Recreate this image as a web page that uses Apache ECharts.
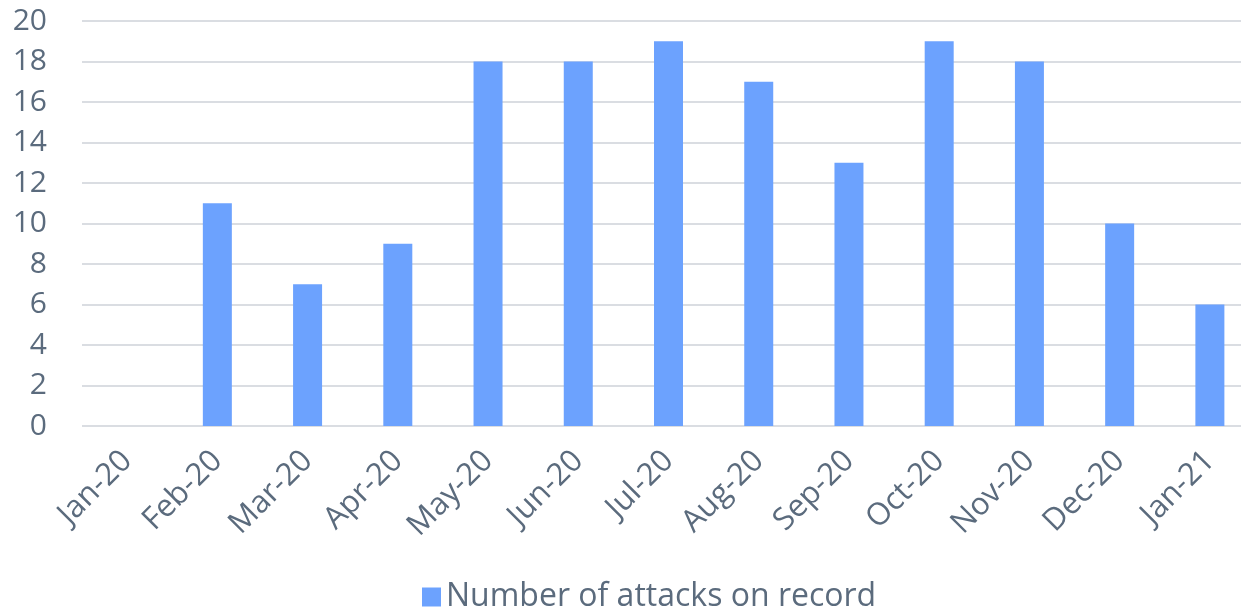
<!DOCTYPE html>
<html>
<head>
<meta charset="utf-8">
<script src="https://cdn.jsdelivr.net/npm/echarts@6/dist/echarts.min.js"></script>
<style>
  html, body { margin: 0; padding: 0; background: #fff; }
  #chart { width: 1241px; height: 612px; }
</style>
</head>
<body>
<div id="chart"></div>
<script>
// monthly attacks
const months = ['Jan-20', 'Feb-20', 'Mar-20', 'Apr-20', 'May-20', 'Jun-20', 'Jul-20',
                'Aug-20', 'Sep-20', 'Oct-20', 'Nov-20', 'Dec-20', 'Jan-21'];
const attacks = [0, 11, 7, 9, 18, 18, 19, 17, 13, 19, 18, 10, 6];
const seriesName = 'Number of attacks on record';

const textColor = '#5b6b7d';
const font = '"Open Sans", "Noto Sans", sans-serif';

const chart = echarts.init(document.getElementById('chart'));
chart.setOption({
    backgroundColor: '#FFFFFF',
    animation: false,
    grid: {
        left: 82,
        width: 1173, // plot runs past the right edge, as in the original crop
        top: 21,
        height: 405,
        outerBoundsMode: 'none',
        containLabel: false
    },
    legend: {
        data: [seriesName],
        bottom: -6,
        left: 417,
        itemWidth: 19,
        itemHeight: 19,
        itemGap: 10,
        icon: 'rect',
        textStyle: { color: textColor, fontSize: 32, fontFamily: font }
    },
    xAxis: {
        type: 'category',
        data: months,
        axisLine: { show: false },
        axisTick: { show: false },
        axisLabel: {
            rotate: 45,
            interval: 0,
            margin: 30,
            color: textColor,
            fontSize: 31,
            fontFamily: font
        }
    },
    yAxis: {
        type: 'value',
        min: 0,
        max: 20,
        interval: 2,
        axisLine: { show: false },
        axisTick: { show: false },
        axisLabel: {
            margin: 35,
            color: textColor,
            fontSize: 30,
            fontFamily: font
        },
        splitLine: { lineStyle: { color: '#dadde2', width: 2 } }
    },
    series: [{
        name: seriesName,
        type: 'bar',
        data: attacks,
        barWidth: 29,
        itemStyle: { color: '#6ca2fe' }
    }]
});
</script>
</body>
</html>
